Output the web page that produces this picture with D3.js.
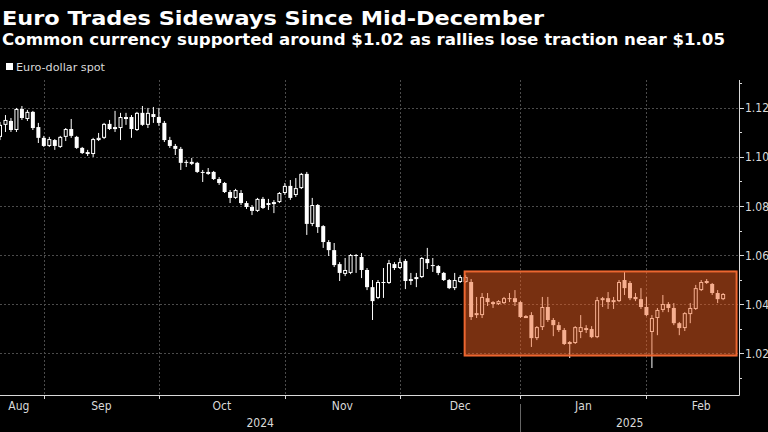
<!DOCTYPE html>
<html>
<head>
<meta charset="utf-8">
<script src="https://cdn.jsdelivr.net/npm/d3@7"></script>
<style>
  html, body { margin: 0; background: #000; }
  svg { display: block; font-family: "DejaVu Sans Condensed", "Liberation Sans Narrow", "DejaVu Sans", sans-serif; }
</style>
</head>
<body>
<svg id="chart" width="768" height="432"></svg>
<script>
// weekday calendar shown on the x axis (candles start on the first day)
const firstDay = "2024-08-20", lastDay = "2025-02-28";

// EUR/USD daily candles, Aug 20 2024 .. Feb 20 2025
const open = [
  1.1082, 1.1131, 1.1147, 1.1110, 1.1196, 1.1155, 1.1184, 1.1122, 1.1078,
  1.1045, 1.1069, 1.1041, 1.1082, 1.1114, 1.1082, 1.1037, 1.1020, 1.1012, 1.1069, 1.1078, 1.1135, 1.1118, 1.1118, 1.1159,
  1.1163, 1.1110, 1.1180, 1.1131, 1.1175, 1.1163,
  1.1139, 1.1069, 1.1045, 1.1033, 1.0980, 1.0976, 1.0976, 1.0939, 1.0935, 1.0939, 1.0910, 1.0894, 1.0857, 1.0833,
  1.0853, 1.0812, 1.0796, 1.0780, 1.0829, 1.0812, 1.0812, 1.0816, 1.0853,
  1.0882, 1.0845, 1.0873, 1.0931, 1.0727, 1.0804, 1.0718, 1.0653, 1.0620, 1.0563, 1.0523, 1.0527, 1.0600, 1.0592,
  1.0539, 1.0469, 1.0425, 1.0490, 1.0486, 1.0563, 1.0547,
  1.0576, 1.0502, 1.0506, 1.0510, 1.0584, 1.0559, 1.0555, 1.0527, 1.0498, 1.0465, 1.0490, 1.0490, 1.0490, 1.0355,
  1.0355, 1.0424, 1.0408, 1.0400, 1.0404, 1.0424, 1.0424, 1.0408,
  1.0347, 1.0355, 1.0261, 1.0306, 1.0388, 1.0335, 1.0314, 1.0294, 1.0241, 1.0241, 1.0286, 1.0302, 1.0298, 1.0265,
  1.0416, 1.0424, 1.0408, 1.0412, 1.0498, 1.0486, 1.0429, 1.0420, 1.0388,
  1.0286, 1.0343, 1.0376, 1.0400, 1.0384, 1.0322, 1.0302, 1.0359, 1.0380, 1.0457, 1.0494, 1.0482, 1.0445, 1.0420
];
const high = [
  1.1143, 1.1171, 1.1159, 1.1200, 1.1208, 1.1192, 1.1188, 1.1139, 1.1086,
  1.1082, 1.1073, 1.1086, 1.1118, 1.1155, 1.1086, 1.1041, 1.1029, 1.1078, 1.1098, 1.1139, 1.1151, 1.1188, 1.1180, 1.1180,
  1.1171, 1.1184, 1.1208, 1.1200, 1.1204, 1.1200,
  1.1147, 1.1082, 1.1053, 1.1041, 1.0988, 1.0996, 1.0980, 1.0947, 1.0955, 1.0943, 1.0918, 1.0898, 1.0865, 1.0870,
  1.0865, 1.0820, 1.0804, 1.0833, 1.0837, 1.0829, 1.0824, 1.0857, 1.0894,
  1.0906, 1.0914, 1.0935, 1.0939, 1.0833, 1.0808, 1.0722, 1.0661, 1.0649, 1.0571, 1.0588, 1.0604, 1.0604, 1.0608,
  1.0547, 1.0498, 1.0498, 1.0547, 1.0580, 1.0571, 1.0588,
  1.0584, 1.0527, 1.0527, 1.0592, 1.0629, 1.0588, 1.0559, 1.0531, 1.0502, 1.0527, 1.0518, 1.0518, 1.0502, 1.0429,
  1.0445, 1.0445, 1.0412, 1.0416, 1.0429, 1.0445, 1.0457, 1.0412,
  1.0355, 1.0367, 1.0310, 1.0429, 1.0429, 1.0343, 1.0327, 1.0302, 1.0249, 1.0310, 1.0355, 1.0314, 1.0310, 1.0429,
  1.0429, 1.0449, 1.0429, 1.0498, 1.0531, 1.0494, 1.0445, 1.0465, 1.0429,
  1.0355, 1.0384, 1.0437, 1.0408, 1.0404, 1.0327, 1.0367, 1.0404, 1.0478, 1.0498, 1.0502, 1.0486, 1.0457, 1.0445
];
const low = [
  1.1069, 1.1102, 1.1102, 1.1102, 1.1151, 1.1147, 1.1110, 1.1057, 1.1041,
  1.1041, 1.1029, 1.1037, 1.1065, 1.1078, 1.1033, 1.1012, 1.1004, 1.1000, 1.1065, 1.1073, 1.1110, 1.1102, 1.1069, 1.1131,
  1.1078, 1.1106, 1.1127, 1.1118, 1.1139, 1.1127,
  1.1061, 1.1037, 1.1008, 1.0947, 1.0959, 1.0967, 1.0935, 1.0898, 1.0927, 1.0906, 1.0886, 1.0853, 1.0812, 1.0829,
  1.0804, 1.0788, 1.0763, 1.0776, 1.0788, 1.0784, 1.0771, 1.0812, 1.0845,
  1.0825, 1.0837, 1.0869, 1.0682, 1.0718, 1.0690, 1.0629, 1.0596, 1.0551, 1.0494, 1.0514, 1.0522, 1.0527, 1.0506,
  1.0457, 1.0335, 1.0420, 1.0425, 1.0482, 1.0539, 1.0543,
  1.0461, 1.0478, 1.0469, 1.0506, 1.0543, 1.0531, 1.0518, 1.0494, 1.0461, 1.0457, 1.0486, 1.0486, 1.0335, 1.0343,
  1.0343, 1.0392, 1.0384, 1.0396, 1.0400, 1.0408, 1.0392, 1.0343,
  1.0343, 1.0225, 1.0253, 1.0294, 1.0327, 1.0269, 1.0286, 1.0233, 1.0180, 1.0237, 1.0261, 1.0282, 1.0261, 1.0261,
  1.0388, 1.0380, 1.0380, 1.0408, 1.0437, 1.0416, 1.0412, 1.0380, 1.0351,
  1.0139, 1.0273, 1.0367, 1.0367, 1.0314, 1.0273, 1.0290, 1.0322, 1.0376, 1.0453, 1.0482, 1.0437, 1.0404, 1.0416
];
const close = [
  1.1131, 1.1151, 1.1110, 1.1196, 1.1159, 1.1184, 1.1118, 1.1078, 1.1045,
  1.1073, 1.1045, 1.1082, 1.1114, 1.1086, 1.1037, 1.1016, 1.1012, 1.1073, 1.1078, 1.1135, 1.1114, 1.1122, 1.1163, 1.1163,
  1.1114, 1.1180, 1.1131, 1.1180, 1.1163, 1.1139,
  1.1069, 1.1045, 1.1033, 1.0976, 1.0976, 1.0980, 1.0939, 1.0935, 1.0939, 1.0910, 1.0894, 1.0857, 1.0833, 1.0865,
  1.0812, 1.0796, 1.0780, 1.0829, 1.0792, 1.0804, 1.0816, 1.0853, 1.0882,
  1.0833, 1.0873, 1.0931, 1.0727, 1.0804, 1.0714, 1.0653, 1.0620, 1.0559, 1.0527, 1.0539, 1.0600, 1.0596, 1.0539,
  1.0469, 1.0412, 1.0490, 1.0486, 1.0567, 1.0547, 1.0571,
  1.0494, 1.0494, 1.0510, 1.0588, 1.0567, 1.0555, 1.0527, 1.0498, 1.0465, 1.0498, 1.0510, 1.0510, 1.0347, 1.0363,
  1.0429, 1.0408, 1.0400, 1.0412, 1.0424, 1.0420, 1.0408, 1.0347,
  1.0351, 1.0261, 1.0306, 1.0388, 1.0335, 1.0314, 1.0294, 1.0237, 1.0245, 1.0306, 1.0306, 1.0294, 1.0265, 1.0416,
  1.0424, 1.0408, 1.0416, 1.0490, 1.0465, 1.0424, 1.0420, 1.0388, 1.0355,
  1.0343, 1.0376, 1.0400, 1.0384, 1.0322, 1.0302, 1.0363, 1.0384, 1.0465, 1.0490, 1.0486, 1.0445, 1.0420, 1.0441
];

const yTicks = [1.02, 1.04, 1.06, 1.08, 1.10, 1.12];
const yMinor = [1.01, 1.03, 1.05, 1.07, 1.09, 1.11, 1.13];
const monthNames = ["Aug", "Sep", "Oct", "Nov", "Dec", "Jan", "Feb"];
const yearNames = ["2024", "2025"];
// range highlighted since mid-December
const band = { from: "2024-12-17", to: "2025-02-24", lo: 1.0190, hi: 1.0533 };

const title = "Euro Trades Sideways Since Mid-December";
const subtitle = "Common currency supported around $1.02 as rallies lose traction near $1.05";
const legendLabel = "Euro-dollar spot";

// ---------- layout ----------
const W = 768, H = 432;
const PL = 0, PR = 739, PT = 80, PB = 395;
const TXT = "#d9d9d9", GRID = "#4b4b4b";

const parse = d3.timeParse("%Y-%m-%d");
const days = d3.timeDay.range(parse(firstDay), d3.timeDay.offset(parse(lastDay), 1))
  .filter((d) => d.getDay() % 6 !== 0);
const idxOf = (s) => days.findIndex((d) => +d === +parse(s));

const x = d3.scaleLinear().domain([0, days.length - 1]).range([0, 756]);
const y = d3.scaleLinear().domain([1.0029, 1.1314]).range([PB, PT]);

const candles = close.map((c, i) => ({ i, o: open[i], h: high[i], l: low[i], c }));

const svg = d3.select("#chart");
svg.append("rect").attr("width", W).attr("height", H).attr("fill", "#000");

svg.append("defs").append("clipPath").attr("id", "plot")
  .append("rect").attr("x", PL).attr("y", PT).attr("width", PR - PL).attr("height", PB - PT);

// ---------- titles / legend ----------
svg.append("text").attr("x", 2).attr("y", 25).attr("fill", "#fff")
  .attr("font-size", 20).attr("font-weight", 700)
  .attr("textLength", 542).attr("lengthAdjust", "spacingAndGlyphs").text(title);
svg.append("text").attr("x", 2).attr("y", 45).attr("fill", "#fff")
  .attr("font-size", 15.5).attr("font-weight", 700)
  .attr("textLength", 723).attr("lengthAdjust", "spacingAndGlyphs").text(subtitle);
svg.append("rect").attr("x", 6).attr("y", 63).attr("width", 7).attr("height", 7).attr("fill", "#fff");
svg.append("text").attr("x", 16).attr("y", 71).attr("fill", TXT).attr("font-size", 11)
  .attr("textLength", 89).attr("lengthAdjust", "spacingAndGlyphs").text(legendLabel);

// ---------- month boundaries (last weekday of each month) ----------
const monthEnds = [];
days.forEach((d, i) => {
  const n = days[i + 1];
  if (!n || n.getMonth() !== d.getMonth()) monthEnds.push(i);
});
const endX = monthEnds.map((i) => x(i));

// ---------- grid ----------
const grid = svg.append("g");
grid.selectAll(".hg").data(yTicks).join("line")
  .attr("x1", PL).attr("x2", PR).attr("y1", (d) => Math.round(y(d)) + 0.5).attr("y2", (d) => Math.round(y(d)) + 0.5)
  .attr("stroke", GRID).attr("stroke-dasharray", "2,2");
grid.selectAll(".vg").data(endX.filter((v) => v < PR)).join("line")
  .attr("x1", (d) => Math.round(d) + 0.5).attr("x2", (d) => Math.round(d) + 0.5).attr("y1", PT).attr("y2", PB)
  .attr("stroke", GRID).attr("stroke-dasharray", "2,2");

// ---------- candles ----------
const cg = svg.append("g").attr("clip-path", "url(#plot)");
const bw = 4;
cg.selectAll("line.wick").data(candles).join("line")
  .attr("x1", (d) => x(d.i)).attr("x2", (d) => x(d.i))
  .attr("y1", (d) => y(d.h)).attr("y2", (d) => y(d.l))
  .attr("stroke", "#fff").attr("stroke-width", 1);
cg.selectAll("rect.body").data(candles).join("rect")
  .attr("x", (d) => x(d.i) - (d.c >= d.o ? bw / 2 - 0.5 : bw / 2))
  .attr("width", (d) => (d.c >= d.o ? bw - 1 : bw))
  .attr("y", (d) => y(Math.max(d.o, d.c)) + (d.c >= d.o ? 0.5 : 0))
  .attr("height", (d) => Math.max(1, Math.abs(y(d.o) - y(d.c)) - (d.c >= d.o ? 1 : 0)))
  .attr("fill", (d) => (d.c >= d.o ? "#000" : "#fff"))
  .attr("stroke", (d) => (d.c >= d.o ? "#fff" : "none"))
  .attr("stroke-width", 1);

// ---------- highlighted range ----------
const bx0 = x(idxOf(band.from)) - 1, bx1 = x(idxOf(band.to)) + 2.5;
svg.append("rect")
  .attr("x", bx0).attr("y", y(band.hi)).attr("width", bx1 - bx0).attr("height", y(band.lo) - y(band.hi))
  .attr("fill", "rgb(240,96,34)").attr("fill-opacity", 0.5)
  .attr("stroke", "rgb(236,102,48)").attr("stroke-width", 2);

// ---------- y axis (right) ----------
const ax = svg.append("g");
ax.append("line").attr("x1", PR + 0.5).attr("x2", PR + 0.5).attr("y1", PT).attr("y2", PB + 0.5).attr("stroke", TXT);
ax.selectAll(".mj").data(yTicks).join("line")
  .attr("x1", PR).attr("x2", PR + 5).attr("y1", (d) => Math.round(y(d)) + 0.5).attr("y2", (d) => Math.round(y(d)) + 0.5)
  .attr("stroke", TXT);
ax.selectAll(".mn").data(yMinor).join("line")
  .attr("x1", PR).attr("x2", PR + 3).attr("y1", (d) => Math.round(y(d)) + 0.5).attr("y2", (d) => Math.round(y(d)) + 0.5)
  .attr("stroke", TXT);
ax.selectAll("text").data(yTicks).join("text")
  .attr("x", PR + 6).attr("y", (d) => y(d) + 4.5)
  .attr("fill", TXT).attr("font-size", 12).text((d) => d3.format(".2f")(d));

// ---------- x axis (bottom) ----------
const bx = svg.append("g");
bx.append("line").attr("x1", PL).attr("x2", PR + 0.5).attr("y1", PB + 0.5).attr("y2", PB + 0.5).attr("stroke", TXT);
bx.selectAll(".tk").data(endX.filter((v) => v < PR)).join("line")
  .attr("x1", (d) => Math.round(d) + 0.5).attr("x2", (d) => Math.round(d) + 0.5).attr("y1", PB).attr("y2", PB + 4)
  .attr("stroke", TXT);
const monthCenters = monthNames.map((m, k) => {
  const a = k === 0 ? PL : endX[k - 1], b = endX[k];
  return (a + b) / 2 - (k === 0 ? 3 : 0);
});
bx.selectAll(".ml").data(monthNames).join("text")
  .attr("x", (d, k) => monthCenters[k]).attr("y", 410).attr("text-anchor", "middle")
  .attr("fill", TXT).attr("font-size", 12).text((d) => d);
const decEnd = endX[monthNames.indexOf("Dec")];
bx.append("line").attr("x1", Math.round(decEnd) + 0.5).attr("x2", Math.round(decEnd) + 0.5)
  .attr("y1", 404).attr("y2", H).attr("stroke", "#666");
const yearCenters = [(PL + decEnd) / 2, (decEnd + PR) / 2];
bx.selectAll(".yl").data(yearNames).join("text")
  .attr("x", (d, k) => yearCenters[k]).attr("y", 427).attr("text-anchor", "middle")
  .attr("fill", TXT).attr("font-size", 12).text((d) => d);
</script>
</body>
</html>
